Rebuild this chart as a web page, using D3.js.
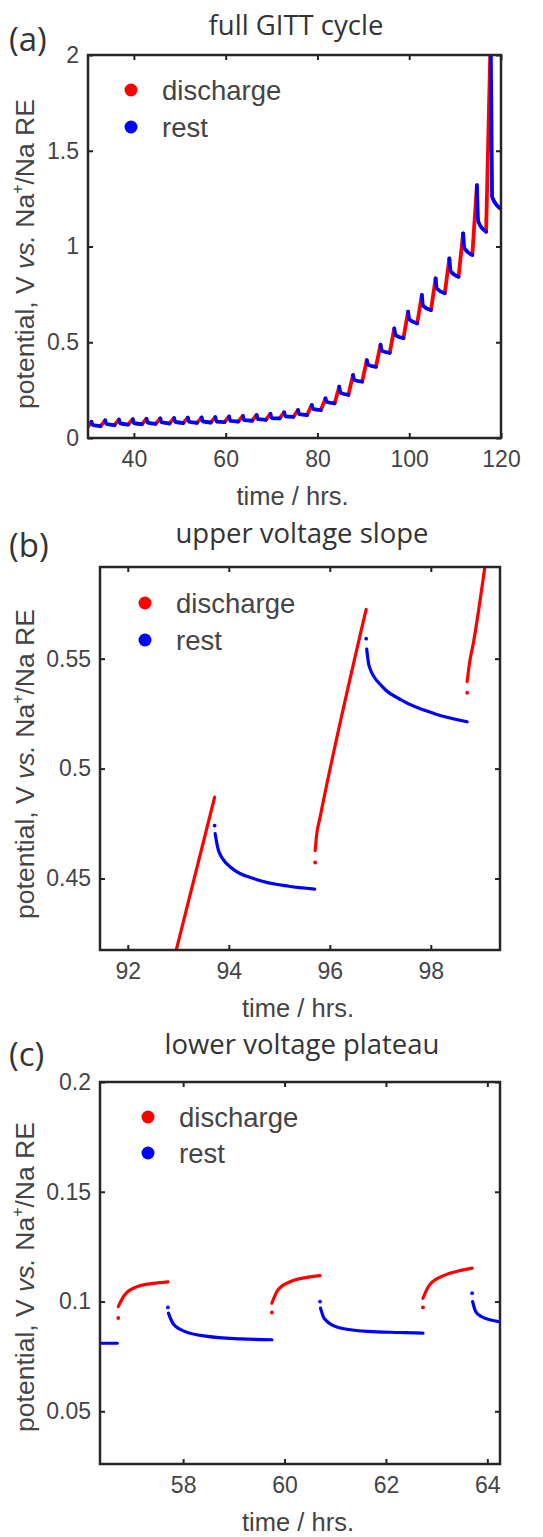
<!DOCTYPE html>
<html>
<head>
<meta charset="utf-8">
<script src="https://cdn.jsdelivr.net/npm/d3@7"></script>
<style>
  body { margin: 0; background: #fff; }
  text { font-family: "Liberation Sans", Arial, sans-serif; fill: #444; }
  .ttl { font-family: "Open Sans", "Liberation Sans", sans-serif; fill: #333; }
</style>
</head>
<body>
<svg id="chart" width="543" height="1537"></svg>
<script>
// ---- panel (a): full GITT cycle, one entry per current pulse ----
const pulseHours = 1;   // discharge pulse length
const restHours = 2;    // rest after each pulse
const kneeHours = 0.3;  // point on the relaxation curve
const aPulseStart = [29.75, 32.75, 35.75, 38.75, 41.75, 44.75, 47.75, 50.75, 53.75, 56.75,
  59.75, 62.75, 65.75, 68.75, 71.75, 74.75, 77.75, 80.75, 83.75, 86.75,
  89.75, 92.75, 95.75, 98.75, 101.75, 104.75, 107.75, 110.75, 113.75, 116.75];
const aStartV = [0.050, 0.062, 0.067, 0.070, 0.072, 0.074, 0.076, 0.078, 0.079, 0.081,
  0.083, 0.086, 0.090, 0.095, 0.102, 0.110, 0.120, 0.146, 0.181, 0.225,
  0.294, 0.372, 0.445, 0.522, 0.599, 0.668, 0.756, 0.842, 0.956, 1.077];
const aPeakV = [0.085, 0.092, 0.096, 0.098, 0.100, 0.102, 0.104, 0.106, 0.107, 0.109,
  0.112, 0.115, 0.120, 0.126, 0.134, 0.146, 0.172, 0.207, 0.268, 0.329,
  0.407, 0.487, 0.572, 0.660, 0.747, 0.834, 0.938, 1.069, 1.320, 2.100];
const aKneeV = [0.068, 0.073, 0.076, 0.078, 0.080, 0.082, 0.084, 0.085, 0.087, 0.086,
  0.089, 0.093, 0.098, 0.104, 0.113, 0.125, 0.152, 0.188, 0.236, 0.303,
  0.382, 0.455, 0.537, 0.618, 0.690, 0.780, 0.870, 0.990, 1.130, 1.260];
const aRestEndV = [0.062, 0.067, 0.070, 0.072, 0.074, 0.076, 0.078, 0.079, 0.081, 0.083,
  0.086, 0.090, 0.095, 0.102, 0.110, 0.120, 0.146, 0.181, 0.225, 0.294,
  0.372, 0.445, 0.522, 0.599, 0.668, 0.756, 0.842, 0.956, 1.077, 1.200];

// ---- panel (b): upper voltage slope ----
const bDischargeT = [[92.90, 93.72], [95.71, 95.74, 95.80, 96.72], [98.72, 98.76, 98.85, 99.07]];
const bDischargeV = [[0.412, 0.487], [0.4627, 0.470, 0.477, 0.5724], [0.5396, 0.547, 0.558, 0.5917]];
const bDischargeDotT = [95.71, 98.72];
const bDischargeDotV = [0.4573, 0.5345];
const bRestT = [[93.73, 93.80, 94.05, 94.56, 95.19, 95.70], [96.73, 96.78, 97.04, 97.42, 98.06, 98.72]];
const bRestV = [[0.4704, 0.4625, 0.4549, 0.4495, 0.4465, 0.4452], [0.5544, 0.5465, 0.5373, 0.5312, 0.5251, 0.5213]];
const bRestDotT = [93.72, 96.72];
const bRestDotV = [0.4741, 0.5591];

// ---- panel (c): lower voltage plateau ----
const cDischargeT = [[56.72, 56.845, 57.095, 57.41, 57.70], [59.75, 59.87, 60.11, 60.42, 60.70], [62.73, 62.86, 63.14, 63.45, 63.70]];
const cDischargeV = [[0.0977, 0.1030, 0.1068, 0.1083, 0.1090], [0.0992, 0.1053, 0.1090, 0.1109, 0.1118], [0.1015, 0.1076, 0.1118, 0.1140, 0.1152]];
const cDischargeDotT = [56.72, 59.75, 62.73];
const cDischargeDotV = [0.0925, 0.0950, 0.0973];
const cRestT = [[56.30, 56.70], [57.71, 57.80, 58.03, 58.48, 59.13, 59.75], [60.71, 60.78, 61.06, 61.64, 62.28, 62.73], [63.71, 63.77, 63.88, 64.05, 64.30]];
const cRestV = [[0.0810, 0.0810], [0.0947, 0.0900, 0.0864, 0.0841, 0.0830, 0.0826], [0.0970, 0.0924, 0.0882, 0.0864, 0.0859, 0.0856], [0.1000, 0.0955, 0.0932, 0.0917, 0.0906]];
const cRestDotT = [57.70, 60.70, 63.70];
const cRestDotV = [0.0973, 0.1000, 0.1038];

// ---- axes ----
const aXTicks = [40, 60, 80, 100, 120];
const aYTicks = [0, 0.5, 1, 1.5, 2];
const aYLabels = ['0', '0.5', '1', '1.5', '2'];
const bXTicks = [92, 94, 96, 98];
const bYTicks = [0.45, 0.5, 0.55];
const bYLabels = ['0.45', '0.5', '0.55'];
const cXTicks = [58, 60, 62, 64];
const cYTicks = [0.05, 0.1, 0.15, 0.2];
const cYLabels = ['0.05', '0.1', '0.15', '0.2'];

const RED = '#ff0000';
const BLUE = '#0000ff';
const svg = d3.select('#chart');

function drawPanel(p) {
  const x = d3.scaleLinear().domain(p.xDomain).range([p.left, p.right]);
  const y = d3.scaleLinear().domain(p.yDomain).range([p.bottom, p.top]);
  const clipId = 'clip-' + p.key;
  svg.append('clipPath').attr('id', clipId)
    .append('rect')
    .attr('x', p.left).attr('y', p.top)
    .attr('width', p.right - p.left).attr('height', p.bottom - p.top);

  const g = svg.append('g');
  const xLabels = p.xTicks.map(String);

  g.append('g').attr('transform', `translate(0,${p.bottom})`)
    .call(d3.axisBottom(x).tickValues(p.xTicks).tickFormat((d, i) => xLabels[i])
      .tickSizeInner(-5).tickSizeOuter(0).tickPadding(13));
  g.append('g').attr('transform', `translate(0,${p.top})`)
    .call(d3.axisTop(x).tickValues(p.xTicks).tickFormat('').tickSizeInner(-5).tickSizeOuter(0));
  g.append('g').attr('transform', `translate(${p.left},0)`)
    .call(d3.axisLeft(y).tickValues(p.yTicks).tickFormat((d, i) => p.yLabels[i])
      .tickSizeInner(-5).tickSizeOuter(0).tickPadding(9));
  g.append('g').attr('transform', `translate(${p.right},0)`)
    .call(d3.axisRight(y).tickValues(p.yTicks).tickFormat('').tickSizeInner(-5).tickSizeOuter(0));
  g.selectAll('.domain').remove();
  g.selectAll('.tick line').attr('stroke', '#222').attr('stroke-width', 2);
  g.selectAll('.tick text').attr('font-size', 23).attr('fill', '#4a4a4a')
    .attr('font-family', '"Liberation Sans", Arial, sans-serif');

  const plot = svg.append('g').attr('clip-path', `url(#${clipId})`);

  // frame
  svg.append('rect')
    .attr('x', p.left).attr('y', p.top)
    .attr('width', p.right - p.left).attr('height', p.bottom - p.top)
    .attr('fill', 'none').attr('stroke', '#262626').attr('stroke-width', 2.5);

  // panel letter and title
  svg.append('text').attr('class', 'ttl').attr('x', 9).attr('y', p.letterY)
    .attr('font-size', 33).text(p.letter);
  svg.append('text').attr('class', 'ttl').attr('x', p.titleX).attr('y', p.titleY)
    .attr('text-anchor', 'middle').attr('font-size', 27.5).text(p.title);

  // x label
  svg.append('text').attr('x', (p.left + p.right) / 2 - 2).attr('y', p.xLabelY)
    .attr('text-anchor', 'middle').attr('font-size', 25.5).text('time / hrs.');

  // y label
  const yl = svg.append('text')
    .attr('transform', `translate(34,${p.yLabelMid}) rotate(-90)`)
    .attr('text-anchor', 'middle').attr('font-size', 26.5);
  yl.append('tspan').text('potential, V  ');
  yl.append('tspan').attr('font-style', 'italic').text('vs.');
  yl.append('tspan').text(' Na');
  yl.append('tspan').attr('font-size', 16).attr('dy', -11).text('+');
  yl.append('tspan').attr('dy', 11).text('/Na RE');

  // legend
  const lg = svg.append('g').attr('transform', `translate(${p.legendX},${p.legendY})`);
  [['discharge', RED], ['rest', BLUE]].forEach(([name, col], i) => {
    lg.append('circle').attr('cx', 0).attr('cy', i * p.legendGap).attr('r', 6.5).attr('fill', col);
    lg.append('text').attr('x', 31).attr('y', i * p.legendGap + 10)
      .attr('font-size', 27.5).attr('fill', '#404040').text(name);
  });

  return { x, y, plot };
}

function drawSegments(panel, ts, vs, color, width) {
  const line = d3.line().x((d) => panel.x(d[0])).y((d) => panel.y(d[1])).curve(d3.curveMonotoneX);
  ts.forEach((t, i) => {
    panel.plot.append('path')
      .datum(t.map((tt, j) => [tt, vs[i][j]]))
      .attr('d', line)
      .attr('fill', 'none').attr('stroke', color)
      .attr('stroke-width', width).attr('stroke-linecap', 'round').attr('stroke-linejoin', 'round');
  });
}

function drawDots(panel, ts, vs, color) {
  panel.plot.selectAll(null).data(ts).enter().append('circle')
    .attr('cx', (d) => panel.x(d)).attr('cy', (d, i) => panel.y(vs[i]))
    .attr('r', 1.9).attr('fill', color);
}

// ---- (a) ----
const pa = drawPanel({
  key: 'a', left: 88, right: 501, top: 55, bottom: 438,
  xDomain: [30, 120], yDomain: [0, 2],
  xTicks: aXTicks, yTicks: aYTicks, yLabels: aYLabels,
  letter: '(a)', letterY: 51, title: 'full GITT cycle', titleX: 296, titleY: 35,
  xLabelY: 505, yLabelMid: 254, legendX: 131, legendY: 90, legendGap: 37,
});
const aDisT = aPulseStart.map((t) => [t, t + pulseHours]);
const aDisV = aPulseStart.map((t, i) => [aStartV[i], aPeakV[i]]);
const aRestT = aPulseStart.map((t) => [t + pulseHours, t + pulseHours + kneeHours, t + pulseHours + restHours]);
const aRestV = aPulseStart.map((t, i) => [aPeakV[i], aKneeV[i], aRestEndV[i]]);
drawSegments(pa, aDisT, aDisV, RED, 3.8);
drawSegments(pa, aRestT, aRestV, BLUE, 3.8);

// ---- (b) ----
const pb = drawPanel({
  key: 'b', left: 100, right: 500, top: 567, bottom: 950,
  xDomain: [91.45, 99.37], yDomain: [0.4175, 0.5917],
  xTicks: bXTicks, yTicks: bYTicks, yLabels: bYLabels,
  letter: '(b)', letterY: 557, title: 'upper voltage slope', titleX: 302, titleY: 543,
  xLabelY: 1017, yLabelMid: 764, legendX: 145, legendY: 603, legendGap: 37,
});
drawSegments(pb, bDischargeT, bDischargeV, RED, 3.2);
drawSegments(pb, bRestT, bRestV, BLUE, 3.2);
drawDots(pb, bDischargeDotT, bDischargeDotV, RED);
drawDots(pb, bRestDotT, bRestDotV, BLUE);

// ---- (c) ----
const pc = drawPanel({
  key: 'c', left: 100, right: 500, top: 1082, bottom: 1464,
  xDomain: [56.36, 64.25], yDomain: [0.026, 0.2],
  xTicks: cXTicks, yTicks: cYTicks, yLabels: cYLabels,
  letter: '(c)', letterY: 1066, title: 'lower voltage plateau', titleX: 302, titleY: 1054,
  xLabelY: 1531, yLabelMid: 1277, legendX: 148, legendY: 1117, legendGap: 36,
});
drawSegments(pc, cDischargeT, cDischargeV, RED, 3.2);
drawSegments(pc, cRestT, cRestV, BLUE, 3.2);
drawDots(pc, cDischargeDotT, cDischargeDotV, RED);
drawDots(pc, cRestDotT, cRestDotV, BLUE);
</script>
</body>
</html>
